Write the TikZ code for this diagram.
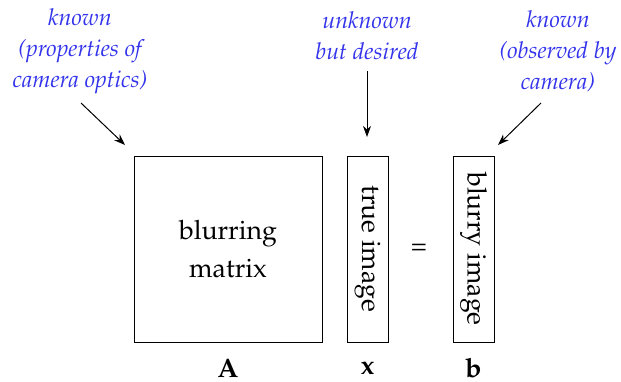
\documentclass[tikz,border=0pt]{standalone}
\usepackage[T1]{fontenc}
\usepackage{mathpazo}
\usetikzlibrary{arrows.meta}
\definecolor{lblue}{rgb}{0.2,0.2,0.92}
\begin{document}
\begin{tikzpicture}[x=0.45pt,y=-0.45pt,
  mbox/.style={draw,line width=0.45pt,inner sep=0pt,minimum height=83.7pt},
  boxtext/.style={font=\fontsize{12}{17}\selectfont,align=center},
  note/.style={text=lblue,font=\fontsize{10.5}{14}\selectfont\itshape,align=center},
  lab/.style={font=\fontsize{12}{14}\selectfont\bfseries},
  pt/.style={-{Stealth[length=5pt,width=3.6pt]},line width=0.45pt}]
\useasboundingbox (0,0) rectangle (621,381);
% boxes
\node[mbox,minimum width=84.6pt,boxtext] (A) at (228,249) {blurring\\matrix};
\node[mbox,minimum width=18.45pt] (X) at (367.5,249) {};
\node[boxtext,rotate=-90] (Xt) at (X.center) {true image};
\node[boxtext] (eq) at (419,249) {=};
\node[mbox,minimum width=18.45pt] (B) at (473.5,249) {};
\node[boxtext,rotate=-90] (Bt) at (B.center) {blurry image};
% labels
\node[lab] (lA) at (228,368) {A};
\node[lab] (lX) at (367.5,368) {x};
\node[lab] (lB) at (473.5,368) {b};
% notes
\node[note] (nA) at (80,51) {known\\(properties of\\camera optics)};
\node[note] (nX) at (367,36) {unknown\\but desired};
\node[note] (nB) at (558,51) {known\\(observed by\\camera)};
% arrows
\coordinate (aA) at (81,103);
\coordinate (aX) at (367,71);
\coordinate (aB) at (541,103);
\coordinate (eA) at (125,145);
\coordinate (eX) at (367,137);
\coordinate (eB) at (498,145);
\draw[pt] (aA) -- (eA);
\draw[pt] (aX) -- (eX);
\draw[pt] (aB) -- (eB);
\end{tikzpicture}
\end{document}
